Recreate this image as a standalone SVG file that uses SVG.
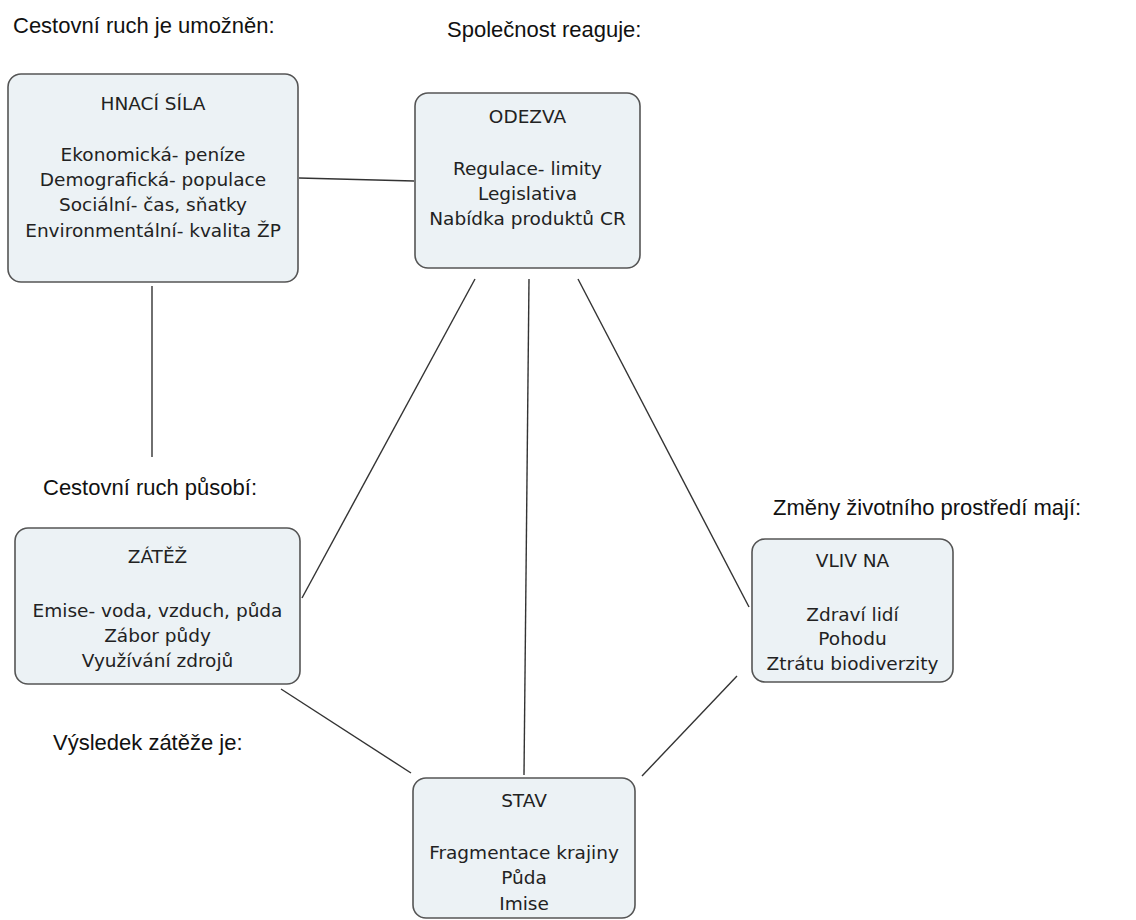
<svg xmlns="http://www.w3.org/2000/svg" width="1136" height="920" viewBox="0 0 1136 920">
<style>
.box{fill:#ecf2f5;stroke:#555;stroke-width:1.6}
.nt{font-family:"DejaVu Sans",Verdana,sans-serif;font-size:18.5px;fill:#222;text-anchor:middle}
.lb{font-family:"Liberation Sans",Arial,sans-serif;font-size:22px;fill:#111}
.con line{stroke:#333;stroke-width:1.4}
</style>
<rect width="1136" height="920" fill="#fff"/>
<g class="con">
<line x1="299" y1="178" x2="414" y2="181"/>
<line x1="152" y1="286" x2="152" y2="457"/>
<line x1="475" y1="279" x2="302" y2="598"/>
<line x1="529" y1="279" x2="524" y2="775"/>
<line x1="578" y1="279" x2="749" y2="607"/>
<line x1="281" y1="689" x2="411" y2="773"/>
<line x1="737" y1="676" x2="642" y2="776"/>
</g>
<g id="hnaci">
<rect class="box" x="8" y="74" width="290" height="208" rx="13"/>
<text class="nt" x="153" y="110">HNACÍ SÍLA</text>
<text class="nt" x="153" y="161">Ekonomická- peníze</text>
<text class="nt" x="153" y="186">Demografická- populace</text>
<text class="nt" x="153" y="211">Sociální- čas, sňatky</text>
<text class="nt" x="153" y="237">Environmentální- kvalita ŽP</text>
</g>
<g id="odezva">
<rect class="box" x="415" y="93" width="225" height="175" rx="13"/>
<text class="nt" x="527.5" y="123">ODEZVA</text>
<text class="nt" x="527.5" y="175">Regulace- limity</text>
<text class="nt" x="527.5" y="200">Legislativa</text>
<text class="nt" x="527.5" y="225">Nabídka produktů CR</text>
</g>
<g id="zatez">
<rect class="box" x="15" y="528" width="285" height="156" rx="13"/>
<text class="nt" x="157.5" y="563">ZÁTĚŽ</text>
<text class="nt" x="157.5" y="617">Emise- voda, vzduch, půda</text>
<text class="nt" x="157.5" y="642">Zábor půdy</text>
<text class="nt" x="157.5" y="667">Využívání zdrojů</text>
</g>
<g id="vliv">
<rect class="box" x="752" y="539" width="201" height="143" rx="13"/>
<text class="nt" x="852.5" y="567">VLIV NA</text>
<text class="nt" x="852.5" y="621">Zdraví lidí</text>
<text class="nt" x="852.5" y="645">Pohodu</text>
<text class="nt" x="852.5" y="670">Ztrátu biodiverzity</text>
</g>
<g id="stav">
<rect class="box" x="413" y="778" width="222" height="140" rx="13"/>
<text class="nt" x="524" y="807">STAV</text>
<text class="nt" x="524" y="859">Fragmentace krajiny</text>
<text class="nt" x="524" y="884">Půda</text>
<text class="nt" x="524" y="910">Imise</text>
</g>
<g id="labels">
<text class="lb" x="13" y="33">Cestovní ruch je umožněn:</text>
<text class="lb" x="447" y="37">Společnost reaguje:</text>
<text class="lb" x="43" y="495">Cestovní ruch působí:</text>
<text class="lb" x="773" y="515">Změny životního prostředí mají:</text>
<text class="lb" x="53" y="750">Výsledek zátěže je:</text>
</g>
</svg>
